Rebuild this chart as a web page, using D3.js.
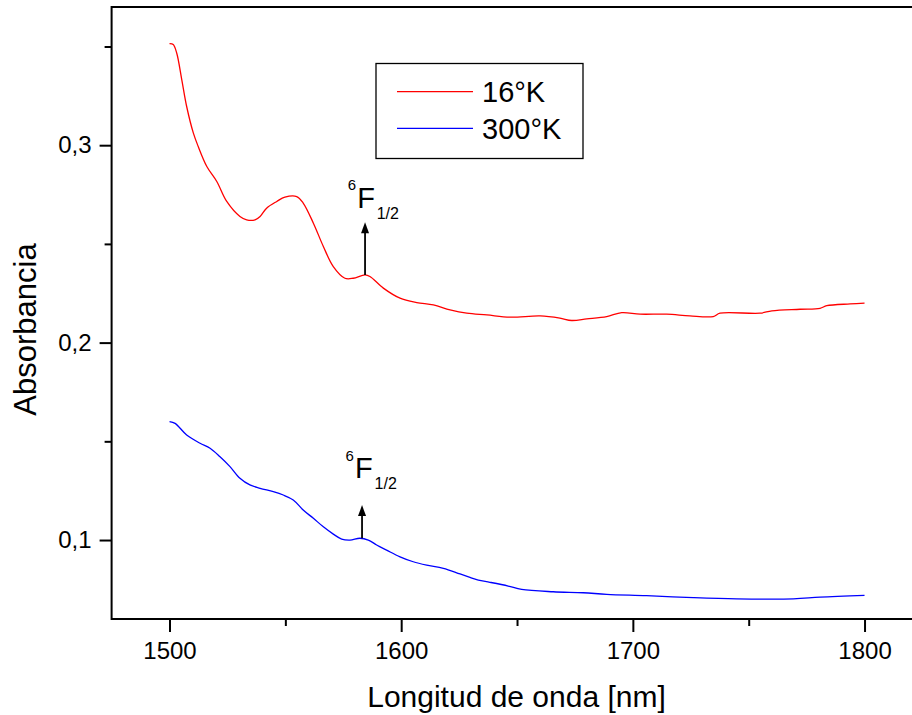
<!DOCTYPE html>
<html><head><meta charset="utf-8">
<script src="https://cdn.jsdelivr.net/npm/d3@7"></script>
<style>
html,body{margin:0;padding:0;background:#fff;}
svg{display:block;font-family:"Liberation Sans",Arial,sans-serif;}
</style></head>
<body>
<svg id="chart" width="912" height="715"></svg>
<script>
// ---- data ----
const wl16 = [1500,1501.6,1503.1,1505.3,1507.4,1510.3,1512.4,1516.1,1520.4,1524.7,1530.4,1533.3,1536.9,1539.1,1541.9,1546.3,1549.8,1554.9,1557.7,1562.1,1566.4,1570.7,1575.7,1579.3,1584.4,1586.5,1592.3,1599.5,1606.7,1613.9,1621.1,1628.3,1637.0,1647.0,1660,1668.5,1673.6,1680.1,1688.7,1695.2,1703.1,1714.6,1724.6,1734.7,1737.6,1754.9,1760,1772.2,1780.8,1783.7,1793.8,1800];
const abs16 = [0.3514,0.351,0.3467,0.3331,0.3196,0.3061,0.2993,0.2892,0.2816,0.2715,0.2639,0.2622,0.2622,0.2639,0.2681,0.2715,0.2737,0.2740,0.2707,0.2605,0.2487,0.2385,0.2326,0.2326,0.2343,0.2335,0.2276,0.2225,0.2203,0.2191,0.2166,0.2149,0.2140,0.2129,0.2135,0.2124,0.2112,0.2120,0.2132,0.2152,0.2144,0.2144,0.2135,0.2132,0.2149,0.2149,0.2161,0.2169,0.2174,0.2187,0.2196,0.2200];
const wl300 = [1500,1502.4,1507.4,1513.2,1517.5,1521.8,1526.1,1530.4,1534.7,1539.1,1544.8,1549.1,1553.4,1557.7,1562.1,1566.4,1570.7,1574.3,1577.9,1582.2,1585.8,1589.4,1593.7,1599.5,1605.2,1611.0,1618.2,1625.4,1629.7,1633.3,1638.3,1646.2,1652.0,1665.6,1678.6,1688.7,1705.9,1726.1,1744.8,1769.3,1780.8,1800];
const abs300 = [0.160,0.1591,0.1532,0.1490,0.1465,0.1422,0.1372,0.1313,0.1279,0.1262,0.1245,0.1228,0.1203,0.1152,0.1110,0.1067,0.1030,0.1005,0.1000,0.1009,0.1000,0.0975,0.0949,0.0915,0.0890,0.0873,0.0857,0.0828,0.0811,0.0797,0.0786,0.0767,0.0750,0.0738,0.0733,0.0725,0.0718,0.0708,0.0702,0.0702,0.0711,0.0720];
const seriesNames = ["16°K","300°K"];
const seriesColors = ["#ff0000","#0000ff"];
const xTicks = [1500,1600,1700,1800];
const xMinorTicks = [1550,1650,1750];
const yTicks = [0.1,0.2,0.3];
const yTickLabels = ["0,1","0,2","0,3"];
const yMinorTicks = [0.15,0.25,0.35];
// annotation: arrow at wavelength, from absorbance annFrom up to annTo; label anchor
const annWl = [1584.4,1583.1];
const annFrom = [0.2343,0.1009];
const annTo = [0.2610,0.1177];
const annLabelWl = [1581.0,1580.1];
const annLabelAbs = [0.2684,0.1313];

// ---- layout ----
const svg = d3.select("#chart");
const x = d3.scaleLinear().domain([1475,1822]).range([111.6,915.5]);
const y = d3.scaleLinear().domain([0.06,0.37]).range([619,7]);

// frame
svg.append("rect").attr("x",x.range()[0]).attr("y",y.range()[1])
  .attr("width",x.range()[1]-x.range()[0]).attr("height",y.range()[0]-y.range()[1])
  .attr("fill","none").attr("stroke","#000").attr("stroke-width",2);

// axes
const gx = svg.append("g").attr("transform",`translate(0,${y.range()[0]})`)
  .call(d3.axisBottom(x).tickValues(xTicks).tickSize(13).tickPadding(10).tickFormat(d3.format("d")));
const gxm = svg.append("g").attr("transform",`translate(0,${y.range()[0]})`)
  .call(d3.axisBottom(x).tickValues(xMinorTicks).tickSize(7).tickFormat(""));
const gy = svg.append("g").attr("transform",`translate(${x.range()[0]},0)`)
  .call(d3.axisLeft(y).tickValues(yTicks).tickSize(12).tickPadding(8).tickFormat((d,i)=>yTickLabels[i]));
const gym = svg.append("g").attr("transform",`translate(${x.range()[0]},0)`)
  .call(d3.axisLeft(y).tickValues(yMinorTicks).tickSize(7).tickFormat(""));
[gx,gxm,gy,gym].forEach(g=>{
  g.select(".domain").remove();
  g.selectAll(".tick line").attr("stroke","#000").attr("stroke-width",2);
  g.selectAll(".tick text").attr("fill","#000").style("font-size","24px").style("font-family","'Liberation Sans',Arial,sans-serif");
});

// axis titles
svg.append("text").attr("x",516.5).attr("y",706.5).attr("text-anchor","middle")
  .style("font-size","30px").text("Longitud de onda [nm]");
svg.append("text").attr("transform","translate(36,329.5) rotate(-90)").attr("text-anchor","middle")
  .style("font-size","31px").text("Absorbancia");

// lines
const line = d3.line().x(d=>x(d[0])).y(d=>y(d[1])).curve(d3.curveCatmullRom.alpha(0.5));
const data = [d3.zip(wl16,abs16), d3.zip(wl300,abs300)];
data.forEach((d,i)=>{
  svg.append("path").datum(d).attr("d",line).attr("fill","none")
    .attr("stroke",seriesColors[i]).attr("stroke-width",1.3);
});

// annotations
annWl.forEach((w,i)=>{
  svg.append("line").attr("x1",x(w)).attr("x2",x(w)).attr("y1",y(annFrom[i])).attr("y2",y(annTo[i])+9)
    .attr("stroke","#000").attr("stroke-width",1.8);
  svg.append("path").attr("d",`M${x(w)-4},${y(annTo[i])+11} L${x(w)},${y(annTo[i])} L${x(w)+4},${y(annTo[i])+11} Z`).attr("fill","#000");
  const lx = x(annLabelWl[i]), ly = y(annLabelAbs[i]);
  svg.append("text").attr("x",lx).attr("y",ly).style("font-size","29px").text("F");
  svg.append("text").attr("x",lx-9.5).attr("y",ly-17.5).style("font-size","15px").text("6");
  svg.append("text").attr("x",lx+19.5).attr("y",ly+11).style("font-size","16px").text("1/2");
});

// legend
const lg = svg.append("g");
lg.append("rect").attr("x",376).attr("y",63.5).attr("width",207).attr("height",95)
  .attr("fill","#fff").attr("stroke","#000").attr("stroke-width",1.3);
seriesNames.forEach((n,i)=>{
  const yy = 91.7 + i*36.6;
  lg.append("line").attr("x1",397).attr("x2",473).attr("y1",yy).attr("y2",yy)
    .attr("stroke",seriesColors[i]).attr("stroke-width",1.3);
  lg.append("text").attr("x",482).attr("y",yy+10.5).style("font-size","29px").text(n);
});
</script>
</body></html>
